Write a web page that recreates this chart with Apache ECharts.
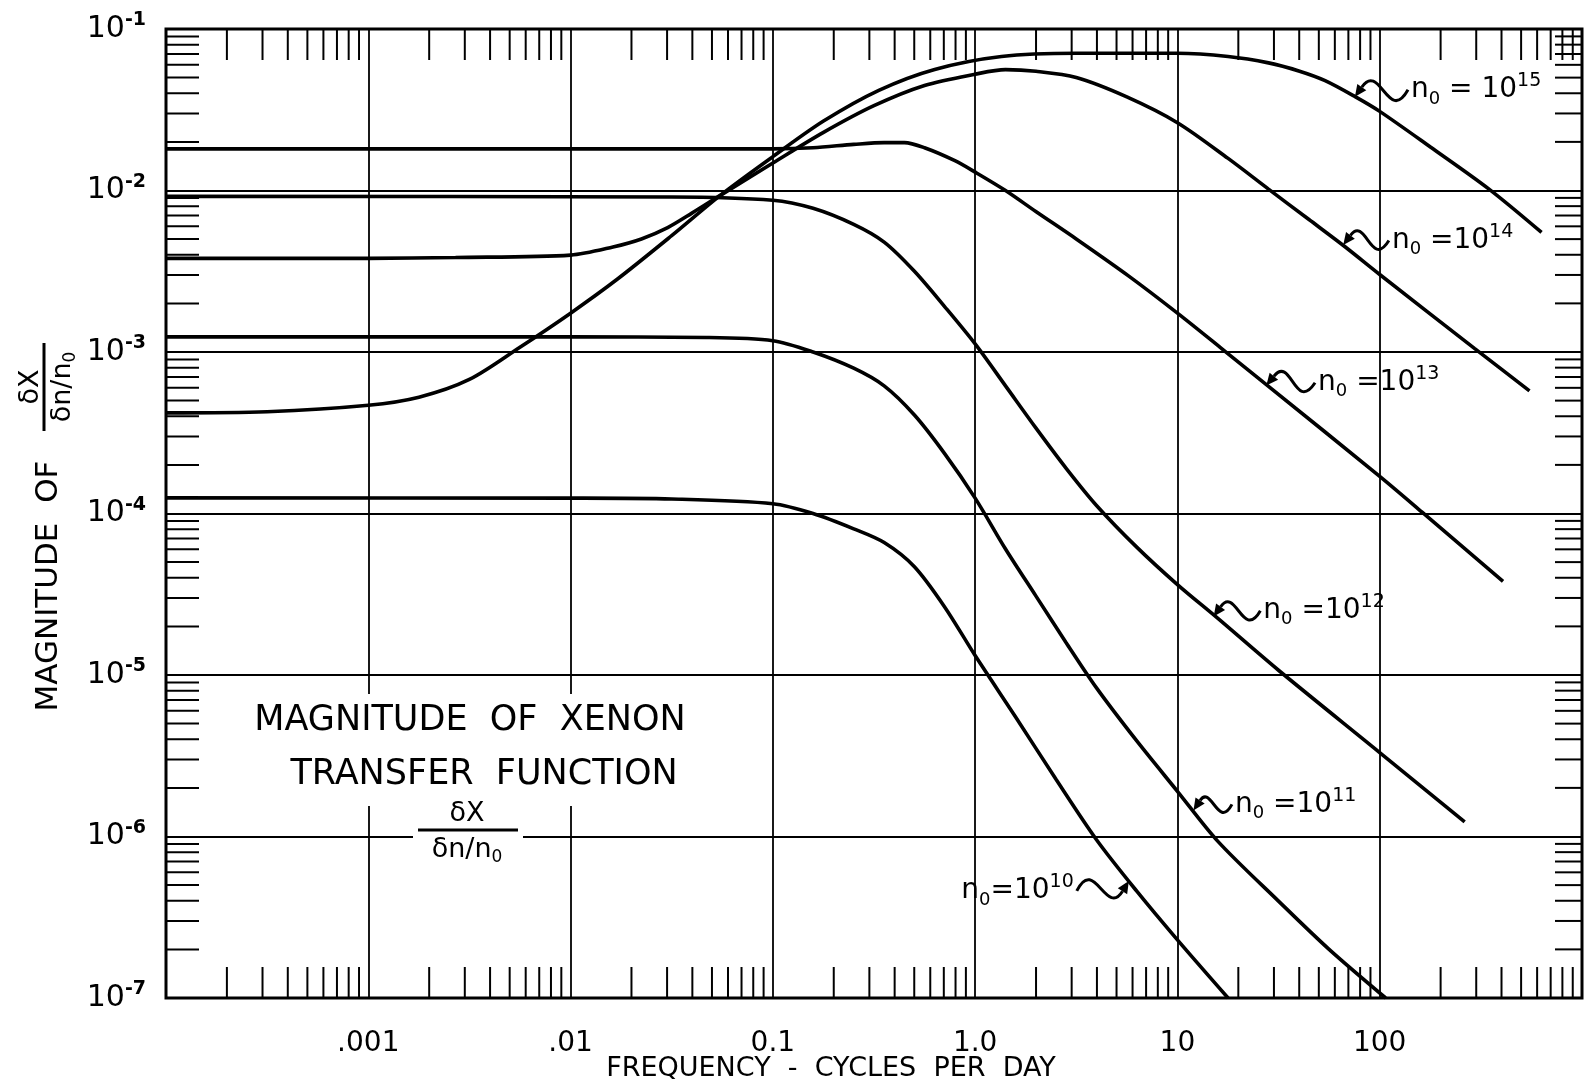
<!DOCTYPE html>
<html><head><meta charset="utf-8">
<script src="https://cdn.jsdelivr.net/npm/echarts@6/dist/echarts.min.js"></script>
<style>html,body{margin:0;padding:0;background:#fff}#c{width:1590px;height:1088px}</style>
</head><body><div id="c"></div>
<script>
const FONT = 'DejaVu Sans';

// ---- axis ticks / labels ----
const xTickLabels = ['', '.001', '.01', '0.1', '1.0', '10', '100', ''];   // 1e-4 ... 1e3
const yTickExps = ['-7', '-6', '-5', '-4', '-3', '-2', '-1'];              // 1e-7 ... 1e-1
const xDecades = [1e-4, 1e-3, 1e-2, 1e-1, 1, 10, 100];
const yDecades = [1e-7, 1e-6, 1e-5, 1e-4, 1e-3, 1e-2];
const minorSteps = [2, 3, 4, 5, 6, 7, 8, 9];

// ---- curves (frequency in cycles/day, magnitude) ----
const freq10 = [1e-4, 0.01, 0.0316, 0.1, 0.158, 0.251, 0.355, 0.501, 0.708, 1.0, 1.585, 2.51, 3.98, 6.31, 10, 17.8];
const mag10  = [1.25e-4, 1.245e-4, 1.23e-4, 1.15e-4, 1.0e-4, 8.04e-5, 6.61e-5, 4.68e-5, 2.63e-5, 1.32e-5, 5.5e-6, 2.26e-6, 9.55e-7, 4.57e-7, 2.29e-7, 1.0e-7];

const freq11 = [1e-4, 0.01, 0.0468, 0.1, 0.158, 0.251, 0.355, 0.501, 0.708, 1.0, 1.413, 1.995, 2.818, 3.98, 6.31, 10, 15.85, 31.6, 56.2, 107];
const mag11  = [1.24e-3, 1.24e-3, 1.23e-3, 1.175e-3, 1.0e-3, 7.94e-4, 6.17e-4, 4.07e-4, 2.34e-4, 1.245e-4, 6.03e-5, 3.09e-5, 1.585e-5, 8.32e-6, 3.89e-6, 1.905e-6, 9.33e-7, 3.98e-7, 2.0e-7, 1.0e-7];

const freq12 = [1e-4, 0.0316, 0.1, 0.158, 0.251, 0.355, 0.501, 0.708, 1.0, 1.413, 1.995, 2.818, 3.98, 6.31, 10, 15.85, 31.6, 100, 263];
const mag12  = [9.2e-3, 9.12e-3, 8.71e-3, 7.76e-3, 6.17e-3, 4.79e-3, 3.16e-3, 1.905e-3, 1.122e-3, 6.17e-4, 3.39e-4, 1.905e-4, 1.122e-4, 6.17e-5, 3.63e-5, 2.24e-5, 1.07e-5, 3.31e-6, 1.23e-6];

const freq13 = [1e-4, 0.1, 0.158, 0.251, 0.355, 0.447, 0.562, 0.794, 1.0, 1.413, 1.995, 3.16, 5.75, 10, 16.6, 28, 100, 162, 407];
const mag13  = [0.0181, 0.0181, 0.0184, 0.0193, 0.0198, 0.0198, 0.0184, 0.0153, 0.0130, 0.0100, 7.41e-3, 5.01e-3, 2.95e-3, 1.74e-3, 1.047e-3, 6.17e-4, 1.70e-4, 1.02e-4, 3.8e-5];

const freq14 = [1e-4, 1e-3, 2.7e-3, 0.01, 0.0162, 0.0224, 0.0302, 0.0398, 0.055, 0.1, 0.178, 0.316, 0.562, 1.0, 1.413, 2.0, 3.16, 5.62, 10, 17.8, 28.2, 44.7, 67.6, 100, 295, 550];
const mag14  = [3.8e-3, 3.8e-3, 3.85e-3, 3.98e-3, 4.47e-3, 5.01e-3, 5.89e-3, 7.24e-3, 9.33e-3, 0.0148, 0.0229, 0.0335, 0.0447, 0.0525, 0.0560, 0.0547, 0.0501, 0.0380, 0.0263, 0.0158, 0.0102, 6.61e-3, 4.47e-3, 3.02e-3, 1.05e-3, 5.75e-4];

const freq15 = [1e-4, 3.16e-4, 1e-3, 1.78e-3, 3.16e-3, 5.62e-3, 0.01, 0.017, 0.0316, 0.055, 0.1, 0.178, 0.334, 0.631, 1.35, 3.16, 10, 17.8, 28.2, 39.8, 53.7, 75.9, 100, 178, 347, 631];
const mag15  = [4.2e-4, 4.27e-4, 4.68e-4, 5.25e-4, 6.76e-4, 1.07e-3, 1.74e-3, 2.82e-3, 5.25e-3, 9.33e-3, 0.0162, 0.0269, 0.0417, 0.0562, 0.0676, 0.0708, 0.0708, 0.0676, 0.0617, 0.055, 0.0479, 0.038, 0.0309, 0.0186, 0.0102, 5.5e-3];

// ---- curve labels (n0 = 10^k) with squiggle arrows ----
const annoExp   = ['15', '14', '13', '12', '11', '10'];
const annoEq    = [' = 10', ' =10', ' =10', ' =10', ' =10', '=10'];
const annoTipF  = [75.4, 66, 27.5, 15.1, 12.0, 5.75];
const annoTipV  = [0.038, 4.6e-3, 6.2e-4, 2.3e-5, 1.45e-6, 5.3e-7];
const annoTextF = [138, 111, 47.9, 25.7, 18.6, 3.18];
const annoTextV = [0.042, 4.9e-3, 6.45e-4, 2.5e-5, 1.58e-6, 4.6e-7];
const annoAlign = ['left', 'left', 'left', 'left', 'left', 'right'];

const xMinorTicks = [];
xDecades.forEach(d => minorSteps.forEach(m => xMinorTicks.push(d * m)));
const yMinorTicks = [];
yDecades.forEach(d => minorSteps.forEach(m => yMinorTicks.push(d * m)));

const curves = [[freq10, mag10], [freq11, mag11], [freq12, mag12], [freq13, mag13], [freq14, mag14], [freq15, mag15]];

const chart = echarts.init(document.getElementById('c'));

function xTickItem(params, api) {
  const cs = params.coordSys;
  const p = api.coord([api.value(0), api.value(1)]);
  const st = { stroke: '#000', lineWidth: 2 };
  return { type: 'group', children: [
    { type: 'line', shape: { x1: p[0], y1: cs.y + cs.height, x2: p[0], y2: cs.y + cs.height - 31 }, style: st },
    { type: 'line', shape: { x1: p[0], y1: cs.y, x2: p[0], y2: cs.y + 31 }, style: st }
  ]};
}
function yTickItem(params, api) {
  const cs = params.coordSys;
  const p = api.coord([api.value(0), api.value(1)]);
  const st = { stroke: '#000', lineWidth: 2 };
  return { type: 'group', children: [
    { type: 'line', shape: { x1: cs.x, y1: p[1], x2: cs.x + 33, y2: p[1] }, style: st },
    { type: 'line', shape: { x1: cs.x + cs.width, y1: p[1], x2: cs.x + cs.width - 27, y2: p[1] }, style: st }
  ]};
}
function annoItem(params, api) {
  const i = params.dataIndex;
  const t = api.coord([api.value(0), api.value(1)]);
  const s = api.coord([api.value(2), api.value(3)]);
  const dx = t[0] - s[0], dy = t[1] - s[1];
  const L = Math.sqrt(dx * dx + dy * dy);
  const nx = -dy / L, ny = dx / L;
  const a = 0.6 * L;
  const c1 = [s[0] + 0.45 * dx - nx * a, s[1] + 0.45 * dy - ny * a];
  const c2 = [s[0] + 0.45 * dx + nx * a, s[1] + 0.45 * dy + ny * a];
  let ux = t[0] - c2[0], uy = t[1] - c2[1];
  const ul = Math.sqrt(ux * ux + uy * uy); ux /= ul; uy /= ul;
  const hl = 12, hw = 5.5;
  const b = [t[0] - ux * hl, t[1] - uy * hl];
  const right = annoAlign[i] === 'right';
  return { type: 'group', children: [
    { type: 'bezierCurve', shape: { x1: s[0], y1: s[1], cpx1: c1[0], cpy1: c1[1], cpx2: c2[0], cpy2: c2[1], x2: b[0], y2: b[1] },
      style: { stroke: '#000', lineWidth: 3, fill: null } },
    { type: 'polygon', shape: { points: [[t[0], t[1]], [b[0] - uy * hw, b[1] + ux * hw], [b[0] + uy * hw, b[1] - ux * hw]] },
      style: { fill: '#000' } },
    { type: 'text', x: right ? s[0] - 3 : s[0] + 3, y: s[1],
      style: { text: '{n|n}{o|0}{e|' + annoEq[i] + '}{p|' + annoExp[i] + '}', align: right ? 'right' : 'left', verticalAlign: 'middle',
        fill: '#000',
        rich: {
          n: { fontSize: 28, fontFamily: FONT, fill: '#000', lineHeight: 36 },
          o: { fontSize: 18, fontFamily: FONT, fill: '#000', verticalAlign: 'bottom', lineHeight: 20 },
          e: { fontSize: 28, fontFamily: FONT, fill: '#000', lineHeight: 36 },
          p: { fontSize: 19, fontFamily: FONT, fill: '#000', verticalAlign: 'top', lineHeight: 20 }
        } } }
  ]};
}

const series = curves.map(c => ({
  type: 'line', data: c[0].map((f, i) => [f, c[1][i]]), symbol: 'none', smooth: 0.3,
  lineStyle: { color: '#000', width: 3.6 }, silent: true, z: 3, animation: false
}));
series.push({ type: 'custom', data: xMinorTicks.map(v => [v, 1e-4]), renderItem: xTickItem, silent: true, z: 4, clip: false, animation: false });
series.push({ type: 'custom', data: yMinorTicks.map(v => [0.1, v]), renderItem: yTickItem, silent: true, z: 4, clip: false, animation: false });
series.push({ type: 'custom', data: annoExp.map((e, i) => [annoTipF[i], annoTipV[i], annoTextF[i], annoTextV[i]]),
  encode: { x: 0, y: 1 }, renderItem: annoItem, silent: true, z: 5, clip: false, animation: false });

const fracRich = { a: { fontSize: 27, fontFamily: FONT, fill: '#000', lineHeight: 32 }, o: { fontSize: 17, fontFamily: FONT, fill: '#000', verticalAlign: 'bottom', lineHeight: 17 } };

const option = {
  backgroundColor: '#fff',
  animation: false,
  grid: { left: 166, right: 8, top: 29, bottom: 90, show: true, borderColor: '#000', borderWidth: 3, backgroundColor: '#fff' },
  xAxis: {
    type: 'log', logBase: 10, min: 1e-4, max: 1e3, splitNumber: 7,
    axisLine: { show: false }, axisTick: { show: false },
    splitLine: { show: true, lineStyle: { color: '#000', width: 1.8 } },
    axisLabel: { margin: 32, fontSize: 28, color: '#000', fontFamily: FONT,
      formatter: v => xTickLabels[Math.round(Math.log10(v)) + 4] || '' }
  },
  yAxis: {
    type: 'log', logBase: 10, min: 1e-7, max: 1e-1, splitNumber: 6,
    axisLine: { show: false }, axisTick: { show: false },
    splitLine: { show: true, lineStyle: { color: '#000', width: 1.8 } },
    axisLabel: { margin: 20, fontFamily: FONT,
      formatter: v => '{b|10}{s|' + (yTickExps[Math.round(Math.log10(v)) + 7] || '') + '}',
      rich: {
        b: { fontSize: 30, color: '#000', fontFamily: FONT, lineHeight: 36 },
        s: { fontSize: 19, color: '#000', fontFamily: FONT, fontWeight: 'bold', verticalAlign: 'top', lineHeight: 19 }
      } }
  },
  graphic: [
    { type: 'rect', shape: { x: 250, y: 694, width: 442, height: 112 }, style: { fill: '#fff' }, z: 1 },
    { type: 'rect', shape: { x: 413, y: 800, width: 110, height: 65 }, style: { fill: '#fff' }, z: 1 },
    { type: 'text', x: 470, y: 721, z: 6, style: { text: 'MAGNITUDE  OF  XENON', fill: '#000', font: '35px ' + FONT, align: 'center', verticalAlign: 'middle' } },
    { type: 'text', x: 484, y: 775, z: 6, style: { text: 'TRANSFER  FUNCTION', fill: '#000', font: '35px ' + FONT, align: 'center', verticalAlign: 'middle' } },
    { type: 'text', x: 467, y: 814, z: 6, style: { text: 'δX', fill: '#000', font: '27px ' + FONT, align: 'center', verticalAlign: 'middle' } },
    { type: 'line', z: 6, shape: { x1: 418, y1: 830, x2: 518, y2: 830 }, style: { stroke: '#000', lineWidth: 3 } },
    { type: 'text', x: 467, y: 850, z: 6, style: { text: '{a|δn/n}{o|0}', fill: '#000', align: 'center', verticalAlign: 'middle', rich: fracRich } },
    { type: 'text', x: 831, y: 1069, z: 6, style: { text: 'FREQUENCY  -  CYCLES  PER  DAY', fill: '#000', font: '27px ' + FONT, align: 'center', verticalAlign: 'middle' } },
    { type: 'text', x: 49, y: 586, rotation: Math.PI / 2, z: 6, style: { text: 'MAGNITUDE  OF', fill: '#000', font: '31px ' + FONT, align: 'center', verticalAlign: 'middle' } },
    { type: 'group', x: 44, y: 387, rotation: Math.PI / 2, z: 6, children: [
      { type: 'text', x: 0, y: -13, style: { text: 'δX', fill: '#000', font: '27px ' + FONT, align: 'center', verticalAlign: 'middle' } },
      { type: 'line', shape: { x1: -44, y1: 0, x2: 44, y2: 0 }, style: { stroke: '#000', lineWidth: 3 } },
      { type: 'text', x: 0, y: 19, style: { text: '{a|δn/n}{o|0}', fill: '#000', align: 'center', verticalAlign: 'middle', rich: fracRich } }
    ] }
  ],
  series: series
};
chart.setOption(option);
</script></body></html>
